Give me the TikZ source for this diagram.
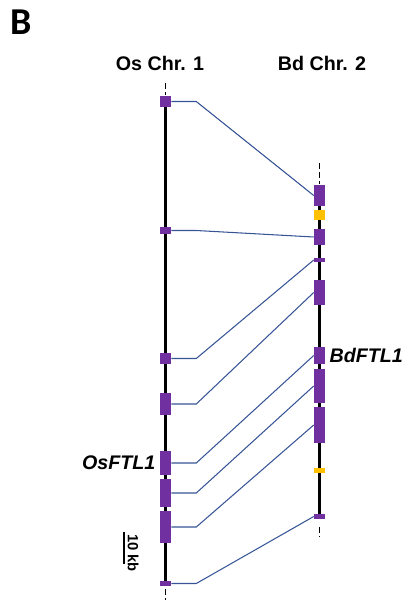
\documentclass[tikz,border=0pt]{standalone}
\usepackage{fontspec}
\setmainfont{Liberation Sans}
\newfontfamily\panelfont{Carlito}
\definecolor{genepurple}{RGB}{112,48,160}
\definecolor{geneyellow}{RGB}{255,192,0}
\definecolor{linkblue}{RGB}{55,85,150}
\newcommand{\pxl}{0.025cm}
\newcommand{\osx}{165.5}
\newcommand{\bdx}{319.5}
\newcommand{\geneblock}[5]{\node[block, fill=#5, minimum height={(#4-#3)*\pxl}] (#1) at (#2,{(#3+#4)/2}) {};}
\tikzset{
  block/.style={rectangle, draw=none, inner sep=0pt, minimum width={11*\pxl}},
  chrom/.style={line width=2.3pt, black},
  chromend/.style={line width=1.4pt, black, dash pattern=on 4.5pt off 2pt},
  link/.style={linkblue, line width=0.75pt},
  chrtitle/.style={font=\fontsize{14}{16}\selectfont\bfseries},
  genename/.style={font=\fontsize{14}{16}\selectfont\bfseries\itshape, inner sep=0pt}
}

\begin{document}
\begin{tikzpicture}[x=\pxl, y=-\pxl]
    \useasboundingbox (0,0) rectangle (408,600);

    \node[anchor=north west, inner sep=0pt, font=\fontsize{27}{30}\selectfont\panelfont\bfseries] (panel) at (10,10) {B};
    \node[chrtitle] (ostitle) at (160,63) {Os Chr. 1};
    \node[chrtitle] (bdtitle) at (322,63) {Bd Chr. 2};

    \draw[chrom] (\osx,96) -- (\osx,586);
    \draw[chrom] (\bdx,185) -- (\bdx,519);
    \draw[chromend] (\osx,83) -- (\osx,95);
    \draw[chromend] (\osx,589) -- (\osx,600);
    \draw[chromend] (\bdx,163) -- (\bdx,184);
    \draw[chromend] (\bdx,527) -- (\bdx,537);

    \foreach \n/\ya/\yb in {1/96/107, 2/227/234, 3/353/364, 4/393/415, 5/451/475, 6/479/507, 7/511/543, 8/581/586}
        {\geneblock{os\n}{\osx}{\ya}{\yb}{genepurple}}
    \foreach \n/\ya/\yb in {1/185/206, 2/229/245, 3/258/262, 4/280/305, 5/347/364, 6/369/403, 7/407/443, 8/514/519}
        {\geneblock{bd\n}{\bdx}{\ya}{\yb}{genepurple}}
    \geneblock{bdy1}{\bdx}{210}{220}{geneyellow}
    \geneblock{bdy2}{\bdx}{468}{473}{geneyellow}

    \foreach \i in {1,...,8} \draw[link] (os\i.east) -- ++(25,0) -- (bd\i.west);

    \node[genename, anchor=east] (osftl) at ([xshift=-4*\pxl]os5.west) {OsFTL1};
    \node[genename, anchor=west] (bdftl) at ([xshift=4*\pxl]bd5.east) {BdFTL1};

    \coordinate (bartop) at (124,532);
    \coordinate (barbot) at (124,564);
    \draw[line width=1.2pt] (bartop) -- (barbot);
    \node[rotate=-90, anchor=south, inner sep=0pt, font=\fontsize{10.5}{12}\selectfont\bfseries] (barlabel) at (127.5,553) {10 kb};
\end{tikzpicture}
\end{document}
